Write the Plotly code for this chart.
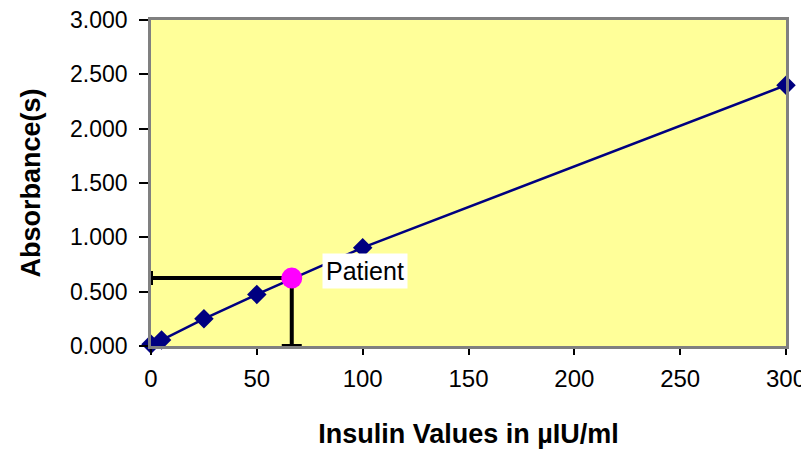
import plotly.graph_objects as go

conc = [0, 5, 25, 50, 100, 300]
absorb = [0.015, 0.055, 0.25, 0.475, 0.905, 2.40]
patient_x = [66.5]
patient_y = [0.625]
x_ticks = [0, 50, 100, 150, 200, 250, 300]
y_ticks = [0, 0.5, 1.0, 1.5, 2.0, 2.5, 3.0]
y_tick_labels = ["0.000", "0.500", "1.000", "1.500", "2.000", "2.500", "3.000"]

FONT = "Liberation Sans, Arial"

fig = go.Figure()
fig.add_trace(go.Scatter(
    x=conc, y=absorb, mode="lines+markers",
    line=dict(color="#000080", width=2.5),
    marker=dict(symbol="diamond", size=15, color="#000080"),
    showlegend=False, cliponaxis=False,
))
fig.add_trace(go.Scatter(
    x=patient_x, y=patient_y, mode="markers",
    marker=dict(symbol="circle", size=21, color="#FF00FF"),
    error_x=dict(type="data", array=[0], arrayminus=[patient_x[0]], color="black", thickness=4, width=7),
    error_y=dict(type="data", array=[0], arrayminus=[patient_y[0]], color="black", thickness=4, width=10),
    showlegend=False, cliponaxis=False,
))
fig.add_annotation(
    x=patient_x[0], y=patient_y[0], text="Patient", showarrow=False,
    xanchor="left", yanchor="middle", xshift=30, yshift=7,
    bgcolor="white", font=dict(size=25, color="black", family=FONT),
    borderpad=3,
)
fig.update_layout(
    width=801, height=441,
    margin=dict(l=143, r=23, t=12, b=103),
    paper_bgcolor="white", plot_bgcolor="#FFFF99",
    font=dict(family=FONT, size=23, color="black"),
)
fig.update_xaxes(
    range=[0, 300], tickvals=x_ticks, ticks="outside", ticklen=6, tickcolor="black", tickwidth=1.5,
    tickfont=dict(size=24), ticklabelstandoff=3, ticklabeloverflow="allow",
    showgrid=False, zeroline=False, showline=True, linecolor="#808080", linewidth=2.5, mirror=True,
    automargin=False,
    title=dict(text="<b>Insulin Values in µIU/ml</b>", font=dict(size=27), standoff=34),
)
fig.update_yaxes(
    range=[0, 3.0], tickvals=y_ticks, ticktext=y_tick_labels, ticks="outside", ticklen=9, tickcolor="black", tickwidth=1.5,
    tickfont=dict(size=23), ticklabelstandoff=7, ticklabeloverflow="allow",
    showgrid=False, zeroline=False, showline=True, linecolor="#808080", linewidth=2.5, mirror=True,
    automargin=False,
    title=dict(text="<b>Absorbance(s)</b>", font=dict(size=27), standoff=22),
)
fig.write_html("out.html")
